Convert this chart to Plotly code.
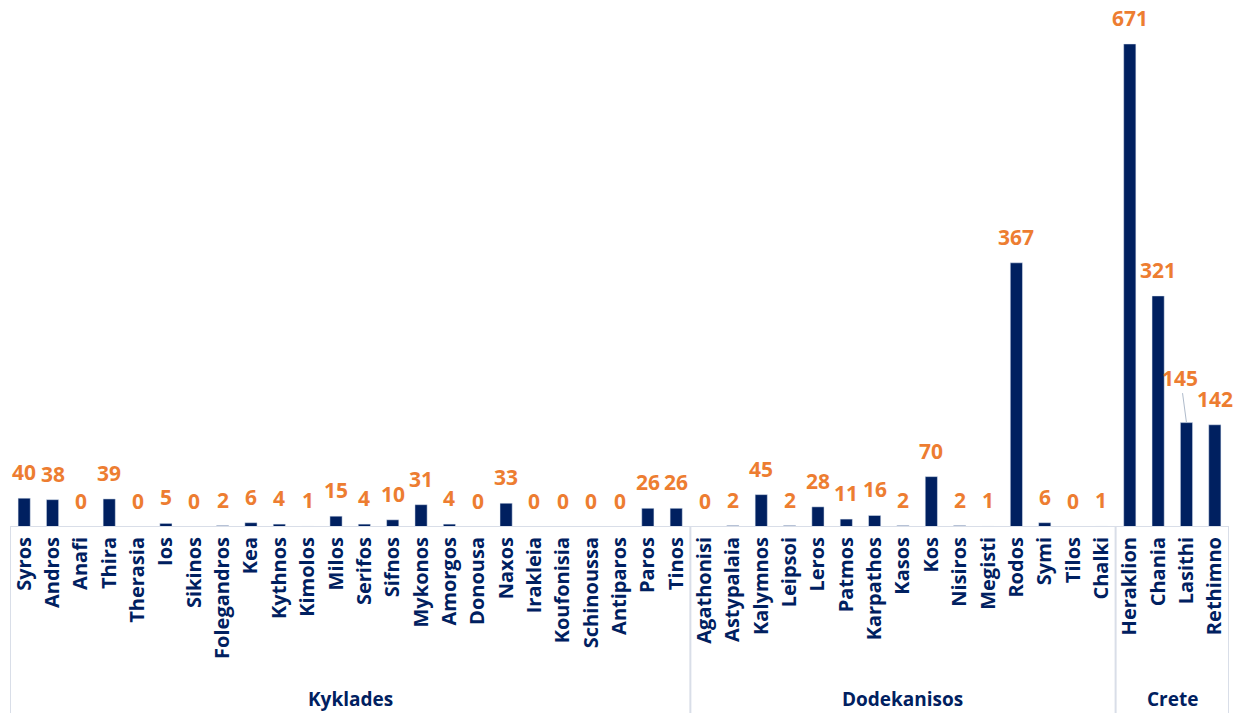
import plotly.graph_objects as go

# Island groups and their islands
kyklades = ["Syros", "Andros", "Anafi", "Thira", "Therasia", "Ios", "Sikinos", "Folegandros",
            "Kea", "Kythnos", "Kimolos", "Milos", "Serifos", "Sifnos", "Mykonos", "Amorgos",
            "Donousa", "Naxos", "Irakleia", "Koufonisia", "Schinoussa", "Antiparos", "Paros", "Tinos"]
kyklades_vals = [40, 38, 0, 39, 0, 5, 0, 2, 6, 4, 1, 15, 4, 10, 31, 4, 0, 33, 0, 0, 0, 0, 26, 26]

dodekanisos = ["Agathonisi", "Astypalaia", "Kalymnos", "Leipsoi", "Leros", "Patmos", "Karpathos",
               "Kasos", "Kos", "Nisiros", "Megisti", "Rodos", "Symi", "Tilos", "Chalki"]
dodekanisos_vals = [0, 2, 45, 2, 28, 11, 16, 2, 70, 2, 1, 367, 6, 0, 1]

crete = ["Heraklion", "Chania", "Lasithi", "Rethimno"]
crete_vals = [671, 321, 145, 142]

groups = [("Kyklades", kyklades), ("Dodekanisos", dodekanisos), ("Crete", crete)]

categories = kyklades + dodekanisos + crete
values = kyklades_vals + dodekanisos_vals + crete_vals

NAVY = "#002060"
ORANGE = "#ED7D31"
LINE = "#D9DEE8"
FONT = "Open Sans"

fig = go.Figure(go.Bar(
    x=categories, y=values, marker_color=NAVY, width=0.43,
    hoverinfo="x+y",
))

# value labels above the bars
annotations = []
for cat, v in zip(categories, values):
    if cat == "Lasithi":
        annotations.append(dict(
            x=cat, y=v, text=str(v), showarrow=True, arrowhead=0, arrowwidth=1,
            arrowcolor="#AFBBCB", ax=-6, ay=-45, standoff=0,
            font=dict(family=FONT, size=21, color=ORANGE, weight="bold"),
        ))
    else:
        annotations.append(dict(
            x=cat, y=v, text=str(v), showarrow=False, yanchor="bottom", yshift=10,
            font=dict(family=FONT, size=21, color=ORANGE, weight="bold"),
        ))

# group labels and dividers of the category axis
shapes = [dict(type="line", xref="x", yref="y", x0=-0.5, x1=len(categories) - 0.5,
               y0=0, y1=0, line=dict(color=LINE, width=2))]
start = 0
bounds = [-0.5]
for name, members in groups:
    end = start + len(members)
    annotations.append(dict(
        x=(start + end - 1) / 2, y=-0.333, xref="x", yref="paper", text=name,
        showarrow=False, yanchor="middle",
        font=dict(family=FONT, size=19, color=NAVY, weight="bold"),
    ))
    bounds.append(end - 0.5)
    start = end
for b in bounds:
    shapes.append(dict(type="line", xref="x", yref="paper", x0=b, x1=b, y0=0, y1=-0.4,
                       line=dict(color=LINE, width=2)))

fig.update_layout(
    width=1240, height=713,
    margin=dict(l=10, r=11, t=10, b=186),
    plot_bgcolor="white", paper_bgcolor="white",
    showlegend=False,
    annotations=annotations,
    shapes=shapes,
    xaxis=dict(
        type="category", tickangle=-90, showgrid=False, showline=False, ticks="",
        ticklabelstandoff=5,
        tickfont=dict(family=FONT, size=20, color=NAVY, weight="bold"),
        range=[-0.5, len(categories) - 0.5],
    ),
    yaxis=dict(range=[0, 718.2], visible=False, showgrid=False, zeroline=False),
)

fig.write_html("out.html")
